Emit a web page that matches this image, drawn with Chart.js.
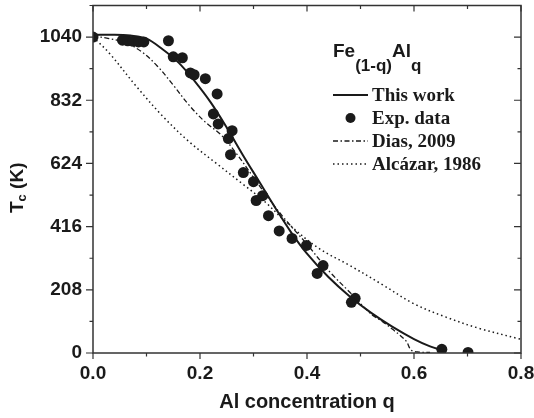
<!DOCTYPE html>
<html>
<head>
<meta charset="utf-8">
<script src="https://cdn.jsdelivr.net/npm/chart.js@4.4.0/dist/chart.umd.min.js"></script>
<style>
    html, body { margin: 0; padding: 0; background: #fff; }
    #wrap { width: 534px; height: 418px; }
</style>
</head>
<body>
<div id="wrap"><canvas id="tcChart" width="534" height="418"></canvas></div>
<script>
// Tc vs Al concentration for Fe(1-q)Alq

// This work (solid)
var workQ = [0, 0.04, 0.07, 0.10, 0.13, 0.16, 0.19, 0.22, 0.25, 0.28, 0.31, 0.34, 0.37, 0.40, 0.44, 0.48, 0.52, 0.56, 0.60, 0.63, 0.655];
var workT = [1047, 1048, 1045, 1035, 1000, 956, 895, 825, 742, 652, 566, 480, 398, 327, 250, 186, 132, 86, 46, 22, 8];

// Exp. data (dots)
var expQ = [0.0, 0.055, 0.065, 0.075, 0.085, 0.095, 0.141, 0.150, 0.167, 0.182, 0.189, 0.210, 0.232, 0.225, 0.234, 0.260, 0.253, 0.257, 0.281, 0.300, 0.317, 0.305, 0.328, 0.348, 0.372, 0.399, 0.430, 0.419, 0.490, 0.483, 0.652, 0.701];
var expT = [1040, 1030, 1028, 1026, 1024, 1024, 1028, 975, 972, 922, 916, 903, 853, 787, 754, 732, 706, 653, 594, 564, 518, 502, 452, 402, 377, 354, 288, 262, 180, 167, 12, 2];

// Dias, 2009 (dash-dot)
var diasQ = [0, 0.03, 0.06, 0.09, 0.12, 0.15, 0.18, 0.21, 0.24, 0.27, 0.30, 0.33, 0.36, 0.40, 0.44, 0.48, 0.52, 0.54, 0.56, 0.585, 0.595, 0.61, 0.63];
var diasT = [1044, 1035, 1022, 993, 945, 882, 815, 760, 717, 652, 578, 505, 438, 358, 272, 200, 128, 105, 78, 40, 9, 3, 2];

// Alcazar, 1986 (dotted)
var alcQ = [0, 0.03, 0.08, 0.13, 0.18, 0.23, 0.28, 0.32, 0.36, 0.42, 0.48, 0.54, 0.60, 0.66, 0.72, 0.80];
var alcT = [1040, 988, 880, 780, 695, 625, 556, 500, 433, 347, 288, 226, 162, 118, 82, 45];

// axis ticks
var xMajor = [0, 0.2, 0.4, 0.6, 0.8];
var xMinor = [0.1, 0.3, 0.5, 0.7];
var yMajor = [0, 208, 416, 624, 832, 1040];
var yMinor = [104, 312, 520, 728, 936, 1144];

var ink = '#1a1a1a';
var sans = "'Liberation Sans', Arial, sans-serif";
var serif = "'Liberation Serif', 'Times New Roman', serif";

function pts(xs, ys) {
    return xs.map(function(x, i) { return {x: x, y: ys[i]}; });
}

// frame + ticks: bottom/left out, top/right in
var frameTicks = {
    id: 'frameTicks',
    afterDatasetsDraw: function(chart) {
        var ctx = chart.ctx;
        var a = chart.chartArea;
        var xs = chart.scales.x, ys = chart.scales.y;
        ctx.save();
        ctx.strokeStyle = '#333';
        ctx.lineWidth = 1.5;
        ctx.strokeRect(a.left, a.top, a.right - a.left, a.bottom - a.top);
        ctx.lineWidth = 1.2;
        ctx.beginPath();
        function xt(v, len) {
            var p = xs.getPixelForValue(v);
            ctx.moveTo(p, a.bottom); ctx.lineTo(p, a.bottom + len);
            ctx.moveTo(p, a.top); ctx.lineTo(p, a.top + len);
        }
        function yt(v, len) {
            var p = ys.getPixelForValue(v);
            ctx.moveTo(a.left, p); ctx.lineTo(a.left - len, p);
            ctx.moveTo(a.right, p); ctx.lineTo(a.right - len, p);
        }
        xMajor.forEach(function(v) { xt(v, 6); });
        xMinor.forEach(function(v) { xt(v, 3.5); });
        yMajor.forEach(function(v) { yt(v, 7); });
        yMinor.forEach(function(v) { yt(v, 3.5); });
        ctx.stroke();
        ctx.restore();
    }
};

// axis titles and legend
var textBits = {
    id: 'textBits',
    afterDraw: function(chart) {
        var ctx = chart.ctx;
        var a = chart.chartArea;
        ctx.save();
        ctx.fillStyle = ink;
        ctx.textBaseline = 'alphabetic';

        // x title
        ctx.font = 'bold 20px ' + sans;
        ctx.textAlign = 'center';
        ctx.fillText('Al concentration q', (a.left + a.right) / 2, 408);

        // y title, T with subscript c
        ctx.save();
        ctx.translate(23, 213);
        ctx.rotate(-Math.PI / 2);
        ctx.textAlign = 'left';
        ctx.font = 'bold 19px ' + sans;
        ctx.fillText('T', 0, 0);
        var w = ctx.measureText('T').width;
        ctx.font = 'bold 13px ' + sans;
        ctx.fillText('c', w, 3);
        w += ctx.measureText('c').width;
        ctx.font = 'bold 19px ' + sans;
        ctx.fillText(' (K)', w, 0);
        ctx.restore();

        // legend title Fe(1-q)Alq
        ctx.textAlign = 'left';
        var x = 333;
        var parts = [['Fe', 19, 57], ['(1-q)', 17, 71], ['Al', 19, 57], ['q', 17, 71]];
        parts.forEach(function(p) {
            ctx.font = 'bold ' + p[1] + 'px ' + sans;
            ctx.fillText(p[0], x, p[2]);
            x += ctx.measureText(p[0]).width;
        });

        // legend rows
        var rows = [
            {label: 'This work', kind: 'line', dash: [], lw: 2},
            {label: 'Exp. data', kind: 'dot'},
            {label: 'Dias, 2009', kind: 'line', dash: [5, 2.5, 1.5, 2.5], lw: 1.3},
            {label: 'Alcázar, 1986', kind: 'line', dash: [1.5, 3], lw: 1.5}
        ];
        var base = [100.5, 123.5, 146.5, 169.5];
        rows.forEach(function(r, i) {
            var my = base[i] - 5.5;
            if (r.kind == 'dot') {
                ctx.beginPath();
                ctx.arc(350.5, my, 5, 0, Math.PI * 2);
                ctx.fill();
            } else {
                ctx.save();
                ctx.strokeStyle = ink;
                ctx.lineWidth = r.lw;
                ctx.setLineDash(r.dash);
                ctx.beginPath();
                ctx.moveTo(333, my);
                ctx.lineTo(368, my);
                ctx.stroke();
                ctx.restore();
            }
            ctx.font = 'bold 19px ' + serif;
            ctx.fillText(r.label, 372, base[i]);
        });
        ctx.restore();
    }
};

var ctx = document.getElementById('tcChart').getContext('2d');
var tcChart = new Chart(ctx, {
    type: 'scatter',
    data: {
        datasets: [
            {
                label: 'This work',
                data: pts(workQ, workT),
                showLine: true,
                borderColor: ink,
                borderWidth: 2,
                pointRadius: 0,
                tension: 0.35
            },
            {
                label: 'Exp. data',
                data: pts(expQ, expT),
                pointRadius: 5.5,
                pointHoverRadius: 5.5,
                backgroundColor: ink,
                borderWidth: 0,
                clip: 0
            },
            {
                label: 'Dias, 2009',
                data: pts(diasQ, diasT),
                showLine: true,
                borderColor: ink,
                borderWidth: 1.3,
                borderDash: [5, 2.5, 1.5, 2.5],
                pointRadius: 0,
                tension: 0.35
            },
            {
                label: 'Alcázar, 1986',
                data: pts(alcQ, alcT),
                showLine: true,
                borderColor: ink,
                borderWidth: 1.5,
                borderDash: [1.5, 3],
                pointRadius: 0,
                tension: 0.35
            }
        ]
    },
    options: {
        responsive: false,
        animation: false,
        devicePixelRatio: 1,
        layout: { padding: { top: 5, right: 13, left: 0, bottom: 0 } },
        plugins: {
            legend: { display: false },
            tooltip: { enabled: false }
        },
        scales: {
            x: {
                type: 'linear',
                min: 0,
                max: 0.8,
                afterFit: function(s) {
                    s.height = 65;
                    s.paddingLeft = 0;
                    s.paddingRight = 0;
                },
                afterBuildTicks: function(s) {
                    s.ticks = xMajor.map(function(v) { return {value: v}; });
                },
                grid: { display: false, drawTicks: false },
                border: { display: false },
                ticks: {
                    padding: 9,
                    color: ink,
                    font: { family: sans, size: 19, weight: 'bold' },
                    callback: function(v) { return v.toFixed(1); }
                }
            },
            y: {
                type: 'linear',
                min: 0,
                max: 1144,
                afterFit: function(s) {
                    s.width = 93;
                    s.paddingTop = 0;
                    s.paddingBottom = 0;
                },
                afterBuildTicks: function(s) {
                    s.ticks = yMajor.map(function(v) { return {value: v}; });
                },
                grid: { display: false, drawTicks: false },
                border: { display: false },
                ticks: {
                    padding: 11,
                    color: ink,
                    font: { family: sans, size: 19, weight: 'bold' },
                    callback: function(v) { return String(v); }
                }
            }
        }
    },
    plugins: [frameTicks, textBits]
});
</script>
</body>
</html>
